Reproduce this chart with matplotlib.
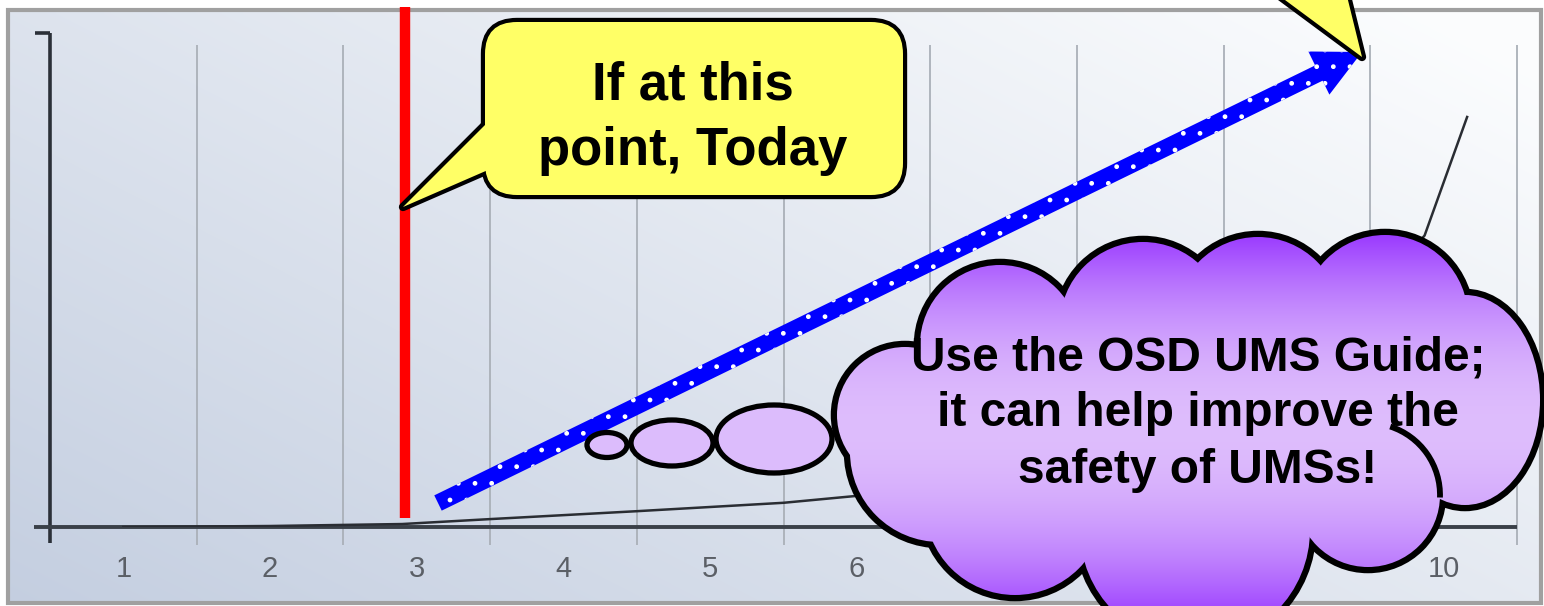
import numpy as np
import matplotlib
matplotlib.use("Agg")
import matplotlib.pyplot as plt
from matplotlib import font_manager
from matplotlib.patches import Ellipse, FancyBboxPatch, Polygon, FancyArrow, Rectangle, Arc

W, H = 1544, 606

# chart data
categories = ["1", "2", "3", "4", "5", "6", "7", "8", "9", "10"]
curve_x = [1, 2, 2.9, 3.5, 4.5, 5.5, 6, 7, 8, 9, 9.87, 10.16]
curve_y = [0, 0.002, 0.006, 0.016, 0.032, 0.049, 0.063, 0.09, 0.15, 0.30, 0.59, 0.83]
today_x = 2.92

note_today = "If at this\npoint, Today"
note_cloud = "Use the OSD UMS Guide;\nit can help improve the\nsafety of UMSs!"

names = {f.name for f in font_manager.fontManager.ttflist}
bold_font = "Liberation Sans" if "Liberation Sans" in names else "DejaVu Sans"
tick_font = "Liberation Sans Narrow" if "Liberation Sans Narrow" in names else bold_font

fig = plt.figure(figsize=(W / 100, H / 100), dpi=100)

# slide background + frame (pixel coords)
bg = fig.add_axes([0, 0, 1, 1], zorder=0)
gx, gy = np.meshgrid(np.linspace(0, 1, 200), np.linspace(0, 1, 80))
t = np.clip(0.6 * gx + 0.45 * (1 - gy), 0, 1)
c0 = np.array([0.77, 0.81, 0.88])
c1 = np.array([0.985, 0.99, 0.995])
bg.imshow(c0 + (c1 - c0) * t[..., None], extent=(8, W - 3, H - 3, 10),
          aspect='auto', interpolation='bilinear')
bg.add_patch(Rectangle((8, 10), W - 11, H - 13, fill=False, ec='#a0a0a0', lw=3))
bg.set_xlim(0, W)
bg.set_ylim(H, 0)
bg.axis('off')

# the chart itself
ax = fig.add_axes([50 / W, (H - 527) / H, 1467 / W, 494 / H], zorder=1)
ax.patch.set_visible(False)
for s in ax.spines.values():
    s.set_visible(False)
ax.set_xlim(0.5, 10.5)
ax.set_ylim(0, 1)
ax.set_xticks(range(1, 11))
ax.set_xticklabels(categories, fontsize=21, color='#5b5f66', family=tick_font)
ax.tick_params(axis='x', length=0, pad=20)
ax.set_yticks([])

ax.vlines(np.arange(1.5, 11, 1.0), -0.036, 0.976, colors='#aab0b8', lw=1.3, clip_on=False)
ax.plot([0.5, 0.5], [-0.032, 1.0], color='#2b3038', lw=2.6, clip_on=False, solid_capstyle='butt')
ax.plot([0.398, 0.5], [1.0, 1.0], color='#2b3038', lw=2.6, clip_on=False, solid_capstyle='butt')
ax.plot([0.391, 10.5], [0, 0], color='#3a4048', lw=2.8, clip_on=False, solid_capstyle='butt')
ax.plot(curve_x, curve_y, color='#2a2d33', lw=1.8)
ax.plot([today_x, today_x], [0.018, 1.053], color='red', lw=7.5, clip_on=False,
        solid_capstyle='butt')

# annotations layer (pixel coords)
ov = fig.add_axes([0, 0, 1, 1], zorder=2)
ov.patch.set_visible(False)

# blue arrow with white dots
tail, tip = (438, 503), (1362, 52)
for kw in (dict(fc='#0000ff', ec='none', zorder=3),
           dict(fill=False, ec='white', lw=0, hatch='.', zorder=4)):
    ov.add_patch(FancyArrow(tail[0], tail[1], tip[0] - tail[0], tip[1] - tail[1],
                            width=17, head_width=48, head_length=48,
                            length_includes_head=True, **kw))

# yellow callout
box_xy, box_w, box_h = (485, 22), 418, 173
tail_pts = [(488, 122), (403, 207), (488, 170)]
top_tail = [(1258, -20), (1343, -20), (1362, 57)]
yellow = '#ffff66'
ov.add_patch(Polygon(tail_pts, fc=yellow, ec='black', lw=6, zorder=5, joinstyle='round'))
ov.add_patch(Polygon(top_tail, fc=yellow, ec='black', lw=6, zorder=5, joinstyle='round'))
ov.add_patch(FancyBboxPatch(box_xy, box_w, box_h, boxstyle="round,pad=0,rounding_size=32",
                            fc=yellow, ec='black', lw=6, zorder=5))
ov.add_patch(FancyBboxPatch(box_xy, box_w, box_h, boxstyle="round,pad=0,rounding_size=32",
                            fc=yellow, ec='none', zorder=6))
ov.add_patch(Polygon(tail_pts, fc=yellow, ec='none', zorder=6))
ov.add_patch(Polygon(top_tail, fc=yellow, ec='none', zorder=6))
ov.text(693, 118, note_today, ha='center', va='center', fontsize=38, fontweight='bold',
        family=bold_font, linespacing=1.4, zorder=7)

# thought bubbles
bubbles = [((607, 445), 40, 25), ((672, 443), 82, 46), ((774, 439), 116, 68)]
for c, w, h in bubbles:
    ov.add_patch(Ellipse(c, w, h, fc='#dcbcfc', ec='black', lw=3.8, zorder=5))

# cloud
cloud_lobes = [((905, 415), 136, 136), ((1000, 345), 160, 160), ((1143, 325), 166, 166),
               ((1258, 320), 166, 166), ((1385, 318), 166, 166), ((1465, 400), 150, 210),
               ((1368, 495), 144, 144), ((1195, 530), 230, 230), ((1015, 505), 180, 180),
               ((940, 452), 180, 180)]
cloud_fill = ((1180, 420), 520, 250)
cloud_arcs = [((1368, 495), 144, 144, -72, 2)]

cy = np.linspace(0, 1, 200)
mix = np.clip(1 - (np.abs(cy - 0.52) / 0.5) ** 2, 0, 1)
purple = np.array([0.60, 0.22, 1.0])
lav = np.array([0.87, 0.74, 0.99])
cloud_grad = (purple + (lav - purple) * mix[:, None])[:, None, :]

for c, w, h in cloud_lobes:
    ov.add_patch(Ellipse(c, w, h, fc='none', ec='black', lw=9, zorder=8))
for c, w, h in cloud_lobes + [cloud_fill]:
    clip = Ellipse(c, w, h, transform=ov.transData)
    im = ov.imshow(cloud_grad, extent=(830, 1550, 615, 225), aspect='auto',
                   interpolation='bilinear', zorder=9)
    im.set_clip_path(clip)
for c, w, h, t1, t2 in cloud_arcs:
    ov.add_patch(Arc(c, w, h, theta1=t1, theta2=t2, color='black', lw=4.2, zorder=10))
ov.text(1198, 414, note_cloud, ha='center', va='center', fontsize=34.5, fontweight='bold',
        family=bold_font, linespacing=1.32, zorder=11)

ov.set_xlim(0, W)
ov.set_ylim(H, 0)
ov.axis('off')

fig.savefig("out.png", dpi=100)
